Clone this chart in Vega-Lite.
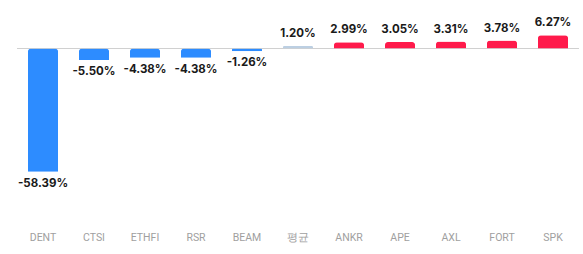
{
  "$schema": "https://vega.github.io/schema/vega-lite/v6.json",
  "width": 561,
  "height": 220,
  "autosize": {"type": "none"},
  "padding": {"left": 17.5, "top": 0, "right": 4.5, "bottom": 34},
  "background": "white",
  "config": {"view": {"stroke": null}, "font": "Roboto"},
  "data": {"values": [
    {"name": "DENT", "value": -58.39, "kind": "neg", "label": "-58.39%"},
    {"name": "CTSI", "value": -5.50, "kind": "neg", "label": "-5.50%"},
    {"name": "ETHFI", "value": -4.38, "kind": "neg", "label": "-4.38%"},
    {"name": "RSR", "value": -4.38, "kind": "neg", "label": "-4.38%"},
    {"name": "BEAM", "value": -1.26, "kind": "neg", "label": "-1.26%"},
    {"name": "평균", "value": 1.20, "kind": "avg", "label": "1.20%"},
    {"name": "ANKR", "value": 2.99, "kind": "pos", "label": "2.99%"},
    {"name": "APE", "value": 3.05, "kind": "pos", "label": "3.05%"},
    {"name": "AXL", "value": 3.31, "kind": "pos", "label": "3.31%"},
    {"name": "FORT", "value": 3.78, "kind": "pos", "label": "3.78%"},
    {"name": "SPK", "value": 6.27, "kind": "pos", "label": "6.27%"}
  ]},
  "layer": [
    {
      "mark": {"type": "rule", "color": "#d0d0d0", "strokeWidth": 1},
      "encoding": {"y": {"datum": 0, "type": "quantitative", "scale": {"domain": [-81.3, 23]}, "axis": null}}
    },
    {
      "mark": {"type": "bar", "cornerRadiusEnd": 3},
      "encoding": {
        "x": {"field": "name", "type": "nominal", "sort": null,
          "scale": {"paddingInner": 0.41, "paddingOuter": 0.205},
          "axis": {"title": null, "domain": false, "ticks": false, "labelAngle": 0, "labelPadding": 12, "labelColor": "#a0a0a0", "labelFontSize": 10.5, "labelFont": "Roboto"}},
        "y": {"field": "value", "type": "quantitative", "scale": {"domain": [-81.3, 23]}, "axis": null},
        "color": {"field": "kind", "type": "nominal", "legend": null,
          "scale": {"domain": ["neg", "avg", "pos"], "range": ["#2d8cff", "#bccfe2", "#ff1a4b"]}}
      }
    },
    {
      "transform": [{"filter": "datum.value < 0"}],
      "mark": {"type": "text", "fontSize": 11.5, "fontWeight": "bold", "color": "#1a1a1a", "font": "Inter", "baseline": "middle", "dy": 12},
      "encoding": {
        "x": {"field": "name", "type": "nominal", "sort": null},
        "y": {"field": "value", "type": "quantitative", "scale": {"domain": [-81.3, 23]}},
        "text": {"field": "label", "type": "nominal"}
      }
    },
    {
      "transform": [{"filter": "datum.value >= 0"}],
      "mark": {"type": "text", "fontSize": 11.5, "fontWeight": "bold", "color": "#1a1a1a", "font": "Inter", "baseline": "middle", "dy": -12},
      "encoding": {
        "x": {"field": "name", "type": "nominal", "sort": null},
        "y": {"field": "value", "type": "quantitative", "scale": {"domain": [-81.3, 23]}},
        "text": {"field": "label", "type": "nominal"}
      }
    }
  ]
}
